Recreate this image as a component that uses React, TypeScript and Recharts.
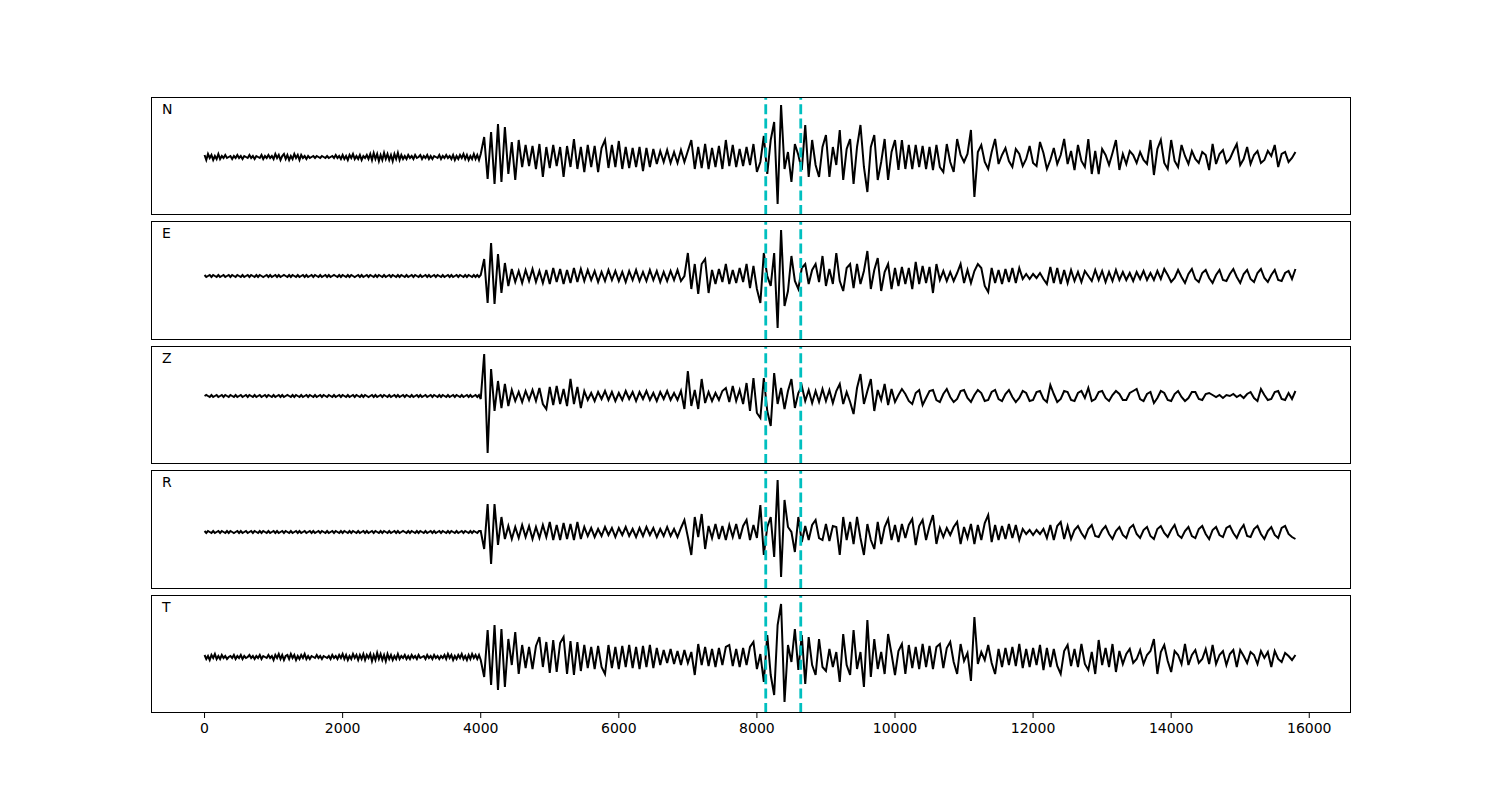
import React from "react";
import { LineChart, Line, XAxis, YAxis, ReferenceLine } from "recharts";

// pre-event noise: one value every NOISE_STEP samples from 0
const NOISE_STEP = 25;
// main part: one value every MAIN_STEP samples from MAIN_START
const MAIN_START = 4000;
const MAIN_STEP = 50;

const N_NOISE = [
  2, -3, 3, -1, 2, -3, 1, -2, 3, -2, 1, -1, 2, -1, 0, 1, -2, 1, -1, 2,
  -1, 1, -2, 1, 0, -1, 2, -1, 1, -2, 1, 0, -1, 2, -2, 1, -1, 2, -1, 1,
  -2, 3, -1, 2, -3, 1, 3, -2, 2, -3, 1, -2, 3, -1, 2, -3, 2, -1, 1, -2,
  1, -1, 0, 1, -1, 1, 0, -1, 1, 0, -1, 1, -1, 0, 1, -1, 2, -1, 1, -2,
  2, -2, 1, -3, 2, -1, 3, -2, 1, -2, 2, -3, 1, -1, 2, -2, 3, -3, 4, -2,
  3, -4, 2, -3, 4, -2, 3, -3, 2, -4, 3, -2, 4, -3, 2, -2, 1, -2, 2, -1,
  1, -2, 2, -1, 0, 2, -2, 1, -1, 2, -2, 1, -2, 1, 0, -1, 2, -2, 1, -1,
  2, -1, 1, -2, 2, -3, 1, -2, 2, -1, 3, -2, 2, -3, 1, -2, 3, -2, 2, -3,
];

const N_MAIN = [
  3, 20, -22, 25, -27, 33, -25, 30, -17, 15,
  -23, 17, -10, 12, -9, 11, -12, 13, -20, 10,
  -11, 12, -9, 10, -20, 11, -10, 18, -12, 10,
  -15, 12, -10, 11, -15, 9, 17, -11, 12, -10,
  16, -12, 10, -11, 9, -10, 10, -14, 9, -10,
  8, -7, 6, -5, 7, -6, 5, -6, 7, -5,
  6, 17, -12, 10, -11, 13, -12, 9, -10, 11,
  -12, 17, -9, 12, -10, 8, -9, 10, -8, 13,
  -15, -5, 21, -17, 17, 35, -47, 52, -12, 5,
  -25, 13, 2, -13, 32, -20, 17, -8, -20, 10,
  22, -20, 10, -8, 27, -23, 8, 18, -27, 10,
  32, -10, -35, 10, 22, -23, -5, 18, -23, 5,
  17, -13, 17, -12, 12, -12, 12, -10, 11, -12,
  10, -13, 12, -10, -15, 13, -5, -15, 18, 2,
  -5, 3, 27, -40, 5, 12, -5, -12, 5, 18,
  -7, 2, 9, -4, -10, 8, 3, -9, -2, 11,
  -6, -9, 15, 4, -12, -3, 9, -7, 2, 18,
  -7, 6, -13, 12, -4, -10, 18, -17, 6, -17,
  8, 2, -8, 4, 17, -13, 3, -7, 6, 2,
  -6, 5, -3, -7, 17, -18, 8, 17, -6, -12,
  17, -4, -10, 12, 1, -7, 6, -2, -6, 5,
  2, -13, 13, -7, 3, 7, -6, -2, 6, 13,
  -8, -2, 10, -7, 2, 6, -6, -3, 6, 1,
  12, -10, 3, 5, -5, -1, 5,
];

const E_NOISE = [
  1, -1, 0, 1, -1, 1, 0, -1, 1, -1, 0, 1, -1, 0, 1, -1, 1, 0, -1, 1,
  0, -1, 1, -1, 0, 1, -1, 1, 0, -1, 1, -1, 1, 0, -1, 0, 1, -1, 1, -1,
  0, 1, -1, 1, -1, 0, 1, 0, -1, 1, -1, 1, 0, -1, 1, -1, 0, 1, -1, 1,
  -1, 0, 1, -1, 1, 0, -1, 1, -1, 0, 1, -1, 1, -1, 0, 1, 0, -1, 1, -1,
  1, 0, -1, 1, -1, 1, 0, -1, 0, 1, -1, 1, -1, 0, 1, -1, 1, 0, -1, 1,
  -1, 1, 0, -1, 1, -1, 0, 1, -1, 1, 0, -1, 1, -1, 1, 0, -1, 1, -1, 0,
  1, -1, 1, 0, -1, 1, -1, 0, 1, -1, 1, -1, 0, 1, -1, 1, 0, -1, 1, -1,
  0, 1, -1, 1, -1, 0, 1, -1, 1, 0, -1, 1, -1, 1, 0, -1, 1, -1, 1, -1,
];

const E_MAIN = [
  1, 17, -27, 33, -28, 22, -17, 13, -10, 7,
  -6, 5, -7, 6, -5, 7, -6, 5, -7, 6,
  -8, 8, -6, 7, -8, 6, -7, 8, -6, 7,
  -5, 6, -4, 5, -6, 4, -5, 6, -4, 5,
  -5, 4, -6, 5, -4, 6, -5, 4, -5, 6,
  -4, 5, -6, 4, -5, 5, -4, 6, -5, 0,
  23, -13, 12, -18, 12, 17, -17, 6, -8, 7,
  -6, 12, -8, 6, -7, 8, -6, 12, -12, 10,
  -13, -27, 23, 0, -10, 23, -52, 46, -30, -15,
  20, -5, -13, 8, 12, -8, 6, 12, -6, 20,
  -10, 7, -8, 23, -5, -15, 8, 12, -12, 12,
  -8, 5, 25, -13, 6, 18, -15, 4, 12, -13,
  8, -10, 9, -8, 8, -13, 14, -8, 10, -7,
  9, -17, 12, -4, 5, -5, 4, -5, 3, 12,
  -7, 6, -7, 5, 12, 8, -10, -16, 8, -7,
  6, -8, 7, -6, 8, -7, 8, -3, 2, -3,
  2, -2, 3, -3, -8, 9, -7, 8, -8, 6,
  -7, 6, -5, 4, -6, 5, 0, -5, 6, -4,
  5, -6, 4, -5, 6, -4, 4, -4, 3, -5,
  4, -3, 5, -4, 3, -4, 5, -3, 7, 1,
  -6, -2, 6, -1, -7, 2, 7, -3, -6, 3,
  6, -2, -7, 1, 6, -4, -5, 2, 7, -1,
  -7, 2, 6, -3, -6, 3, 7, -2, -6, 1,
  6, -4, -5, 3, 5, -3, 7,
];

const Z_NOISE = [
  0, 1, 0, -1, 1, -1, 0, 1, -1, 0, 1, -1, 1, 0, -1, 1, 0, -1, 1, -1,
  0, 1, -1, 0, 1, -1, 1, 0, -1, 1, -1, 0, 1, -1, 0, 1, -1, 1, 0, -1,
  1, -1, 0, 1, -1, 1, -1, 0, 1, 0, -1, 1, -1, 1, 0, -1, 1, -1, 0, 1,
  -1, 1, 0, -1, 1, -1, 0, 1, -1, 1, 0, -1, 1, 0, -1, 1, -1, 0, 1, -1,
  1, 0, -1, 1, -1, 0, 1, -1, 1, 0, -1, 1, -1, 1, 0, -1, 0, 1, -1, 1,
  -1, 0, 1, -1, 1, 0, -1, 1, -1, 0, 1, -1, 1, -1, 0, 1, -1, 1, 0, -1,
  1, -1, 0, 1, -1, 1, -1, 0, 1, -1, 0, 1, -1, 1, 0, -1, 1, -1, 1, 0,
  -1, 1, -1, 0, 1, -1, 1, 0, -1, 1, -1, 0, 1, -1, 1, -1, 0, 1, -1, 1,
];

const Z_MAIN = [
  -3, 42, -57, 27, -15, 15, -12, 12, -10, 6,
  -5, 4, -6, 5, -4, 6, -5, 8, -8, -13,
  9, -9, 10, -8, 7, -10, 17, -8, 9, -12,
  5, -4, 3, -5, 4, -3, 5, -4, 4, -5,
  3, -4, 5, -3, 4, -5, 4, -3, 5, -4,
  3, -5, 4, -3, 5, -4, 3, -4, 5, -13,
  25, -10, 6, -13, 17, -7, 4, -5, 3, -4,
  5, 8, -6, 10, -5, 6, -8, 13, -15, 18,
  -17, -22, 18, -15, -30, 23, -8, 8, -13, 5,
  17, -12, 3, 10, -5, 6, -7, 5, -6, 7,
  -5, 6, -7, 5, 12, -8, 4, -6, -18, 8,
  22, -8, 5, 17, -15, 6, -4, 12, -9, 7,
  -6, 1, 7, 2, -5, -8, 3, 6, -9, -2,
  5, 6, -4, -6, 2, 7, -1, -6, -3, 5,
  6, -2, -6, 1, 6, 3, -5, -4, 4, 6,
  -3, -5, 2, 6, -1, -6, -2, 5, 3, -5,
  -4, 4, 5, -3, -6, 11, 2, -6, -3, 5,
  4, -4, -5, 3, 5, -2, 8, -5, -3, 4,
  5, -2, -5, 1, 5, 2, -4, -4, 3, 5,
  7, -3, -5, 2, 4, -7, -2, 5, 3, -4,
  -5, 2, 5, -1, -5, -2, 4, 4, -3, -4,
  2, 3, 1, -1, 1, -2, 1, 0, 2, -1,
  1, -2, 2, 4, -2, -5, 7, 1, -4, -3,
  4, 5, -3, -4, 3, -3, 5,
];

const R_NOISE = [
  1, -1, 1, 0, -1, 1, -1, 0, 1, -1, 1, 0, -1, 1, -1, 1, 0, -1, 0, 1,
  -1, 1, -1, 0, 1, -1, 0, 1, -1, 1, 0, -1, 1, -1, 1, 0, -1, 1, -1, 0,
  1, -1, 1, -1, 0, 1, -1, 1, 0, -1, 1, -1, 0, 1, -1, 1, -1, 0, 1, -1,
  0, 1, -1, 1, -1, 0, 1, -1, 1, 0, -1, 1, -1, 0, 1, -1, 1, 0, -1, 1,
  -1, 1, 0, -1, 1, -1, 1, 0, -1, 1, -1, 0, 1, -1, 1, -1, 0, 1, -1, 1,
  0, -1, 1, -1, 1, 0, -1, 1, -1, 0, 1, -1, 1, -1, 0, 1, 0, -1, 1, -1,
  1, 0, -1, 1, -1, 1, 0, -1, 1, -1, 0, 1, -1, 1, -1, 0, 1, -1, 1, 0,
  -1, 1, -1, 1, 0, -1, 1, -1, 0, 1, -1, 1, 0, -1, 1, -1, 1, 0, -1, 1,
];

const R_MAIN = [
  1, -17, 28, -32, 28, -13, 15, -7, 6, -7,
  5, -6, 7, -5, 6, -7, 5, -6, 7, -5,
  10, -8, 7, -8, 9, -7, 8, -8, 10, -7,
  5, -4, 4, -5, 3, -4, 5, -3, 4, -5,
  4, -3, 5, -4, 3, -5, 4, -4, 5, -3,
  4, -5, 3, -4, 5, -4, 3, -5, 4, 12,
  -5, -23, 15, -5, 18, -17, 6, -6, 8, -7,
  6, -8, 7, -5, 8, -7, 6, 12, -8, 7,
  -6, 27, -23, 5, 15, -25, 52, -45, 32, 5,
  0, -20, 15, -10, 6, -8, 7, 12, -6, -8,
  8, -9, 6, 5, -23, 15, -8, 10, -12, 15,
  -6, -23, 8, -8, -17, 10, -12, 5, 13, -8,
  7, -10, 8, -6, 7, 13, -13, 6, 12, -8,
  6, 17, -12, 4, -5, 4, -3, 5, 10, -12,
  5, -6, 8, -12, 7, -8, 9, 17, -10, 7,
  -8, 6, -7, 8, -6, 7, -8, 3, -2, 2,
  -3, 2, -2, 3, -6, 7, -8, 6, 10, -7,
  6, -7, 2, 6, -1, -6, 3, 7, -4, -5,
  2, 6, -2, -7, 1, 5, -3, -6, 4, 7,
  -2, -6, 2, 5, -4, -7, 3, 6, -1, -5,
  2, 7, -3, -6, 1, 5, -4, -6, 3, 6,
  -2, -7, 2, 5, -3, -5, 4, 6, -1, -6,
  2, 7, -4, -5, 3, 6, -2, -7, 1, 5,
  -3, -6, 4, 6, -2, -5, -7,
];

const T_NOISE = [
  2, -2, 1, -3, 2, -1, 3, -2, 1, -2, 2, -1, 1, -2, 0, 1, -1, 2, -2, 1,
  -1, 2, -2, 1, -1, 0, 2, -1, 1, -2, 1, -1, 2, -2, 1, 0, -1, 2, -1, 1,
  -3, 2, -1, 3, -2, 2, -3, 1, 2, -2, 3, -1, 2, -3, 1, -2, 2, -1, 3, -2,
  1, -2, 1, 0, -1, 2, -1, 1, -2, 1, 0, -1, 1, -2, 2, -1, 1, -2, 2, -1,
  3, -2, 2, -3, 1, -2, 3, -1, 2, -3, 2, -2, 3, -3, 2, -1, 3, -4, 2, -3,
  4, -2, 3, -3, 2, -4, 3, -2, 2, -3, 1, -2, 3, -2, 1, -1, 2, -2, 1, -2,
  2, -1, 1, -2, 2, -1, 0, 1, -2, 2, -1, 1, -2, 2, -1, 1, -2, 1, -1, 2,
  -2, 3, -1, 2, -3, 1, -2, 2, -1, 3, -2, 1, -3, 2, -2, 3, -1, 2, -2, 2,
];

const T_MAIN = [
  -3, -20, 27, -28, 32, -33, 28, -30, 18, -8,
  25, -17, 12, -11, 10, -12, 11, 20, -10, 15,
  -16, 17, -15, 14, 20, -17, 16, -18, 15, -14,
  12, -11, 10, -12, 11, -10, -17, 12, -11, 10,
  -12, 11, -10, 12, -11, 10, -12, 11, -10, 12,
  -11, 9, -8, 7, -6, 8, -7, 6, -8, 7,
  -6, 5, -18, 13, -8, 10, -9, 8, -10, 9,
  -8, 10, 12, -9, 8, -10, 9, -8, 10, 15,
  -12, 3, -25, 22, -18, -38, 32, 53, -45, 12,
  -5, 28, -13, 22, -27, 20, -8, -18, 18, -10,
  -14, 8, -10, 5, -25, 23, -8, -18, 27, -12,
  5, -30, 37, -20, 18, -12, 5, -17, 23, 3,
  -18, 6, 13, -17, 12, -11, 10, -12, 13, -10,
  11, -12, 10, 13, -11, 9, 15, -5, -17, 13,
  -4, 4, -24, 40, -7, 5, -3, 12, -6, -17,
  8, -10, 9, -8, 10, -9, 13, -11, 8, -10,
  9, -8, 12, -13, 9, -10, 8, -9, -17, 6,
  12, -9, 8, -10, 13, -7, -13, 5, -17, 17,
  -8, 9, -10, 13, -15, 6, -7, 3, 8, -6,
  -2, 7, -7, 2, 6, 18, -17, 5, 12, -4,
  -15, 6, 2, -7, 13, -8, 2, 7, -6, -2,
  8, -7, 12, -7, 2, 6, -8, 3, 7, -10,
  7, 1, -6, 5, 2, -7, 6, -1, 5, -10,
  6, -2, -5, 4, 1, -3, 2,
];

const X_TICKS = [0, 2000, 4000, 6000, 8000, 10000, 12000, 14000, 16000];
const X_DOMAIN = [-790, 16590];
const PICKS = [8128, 8635];

const PANELS = [
  { name: "N", noise: N_NOISE, main: N_MAIN, top: 97, bottom: 214, domain: [-58, 60] },
  { name: "E", noise: E_NOISE, main: E_MAIN, top: 221, bottom: 339, domain: [-64, 55] },
  { name: "Z", noise: Z_NOISE, main: Z_MAIN, top: 346, bottom: 463, domain: [-68, 50] },
  { name: "R", noise: R_NOISE, main: R_MAIN, top: 470, bottom: 588, domain: [-57, 62] },
  { name: "T", noise: T_NOISE, main: T_MAIN, top: 595, bottom: 712, domain: [-56, 62] },
];

function buildSeries(noise: number[], main: number[]) {
  return [
    ...noise.map((v, k) => ({ t: k * NOISE_STEP, v })),
    ...main.map((v, j) => ({ t: MAIN_START + j * MAIN_STEP, v })),
  ];
}

const LEFT = 150;
const WIDTH = 1200;
const FONT = "DejaVu Sans, sans-serif";

export default function App() {
  return (
    <div style={{ position: "absolute", left: 0, top: 0, width: 1500, height: 800, background: "#fff" }}>
      {PANELS.map((p, idx) => {
        const last = idx === PANELS.length - 1;
        const plotH = p.bottom - p.top + 1;
        const axisH = last ? 40 : 6;
        return (
          <div key={p.name}>
            <div style={{ position: "absolute", left: LEFT, top: p.top }}>
              <LineChart
                width={WIDTH}
                height={plotH + axisH}
                data={buildSeries(p.noise, p.main)}
                margin={{ top: 0, right: 0, bottom: 0, left: 0 }}
              >
                <XAxis
                  dataKey="t"
                  type="number"
                  domain={X_DOMAIN}
                  ticks={X_TICKS}
                  allowDataOverflow
                  height={axisH}
                  axisLine={false}
                  tickSize={5}
                  tickMargin={5}
                  tickLine={{ stroke: "#000", strokeWidth: 1 }}
                  tick={last ? { fill: "#000", fontSize: 14, fontFamily: FONT } : false}
                />
                <YAxis hide width={0} type="number" domain={p.domain} allowDataOverflow />
                <Line
                  type="linear"
                  dataKey="v"
                  stroke="#000"
                  strokeWidth={2}
                  dot={false}
                  isAnimationActive={false}
                />
                {PICKS.map((x) => (
                  <ReferenceLine
                    key={x}
                    x={x}
                    stroke="#00bfbf"
                    strokeWidth={2.8}
                    strokeDasharray="10 4.4"
                  />
                ))}
              </LineChart>
            </div>
            <div
              style={{
                position: "absolute",
                left: LEFT + 1,
                top: p.top,
                width: WIDTH,
                height: plotH,
                border: "1px solid #000",
                boxSizing: "border-box",
                pointerEvents: "none",
              }}
            />
            <div
              style={{
                position: "absolute",
                left: 162,
                top: p.top + 5,
                fontFamily: FONT,
                fontSize: 14,
                lineHeight: "14px",
                color: "#000",
              }}
            >
              {p.name}
            </div>
          </div>
        );
      })}
    </div>
  );
}
